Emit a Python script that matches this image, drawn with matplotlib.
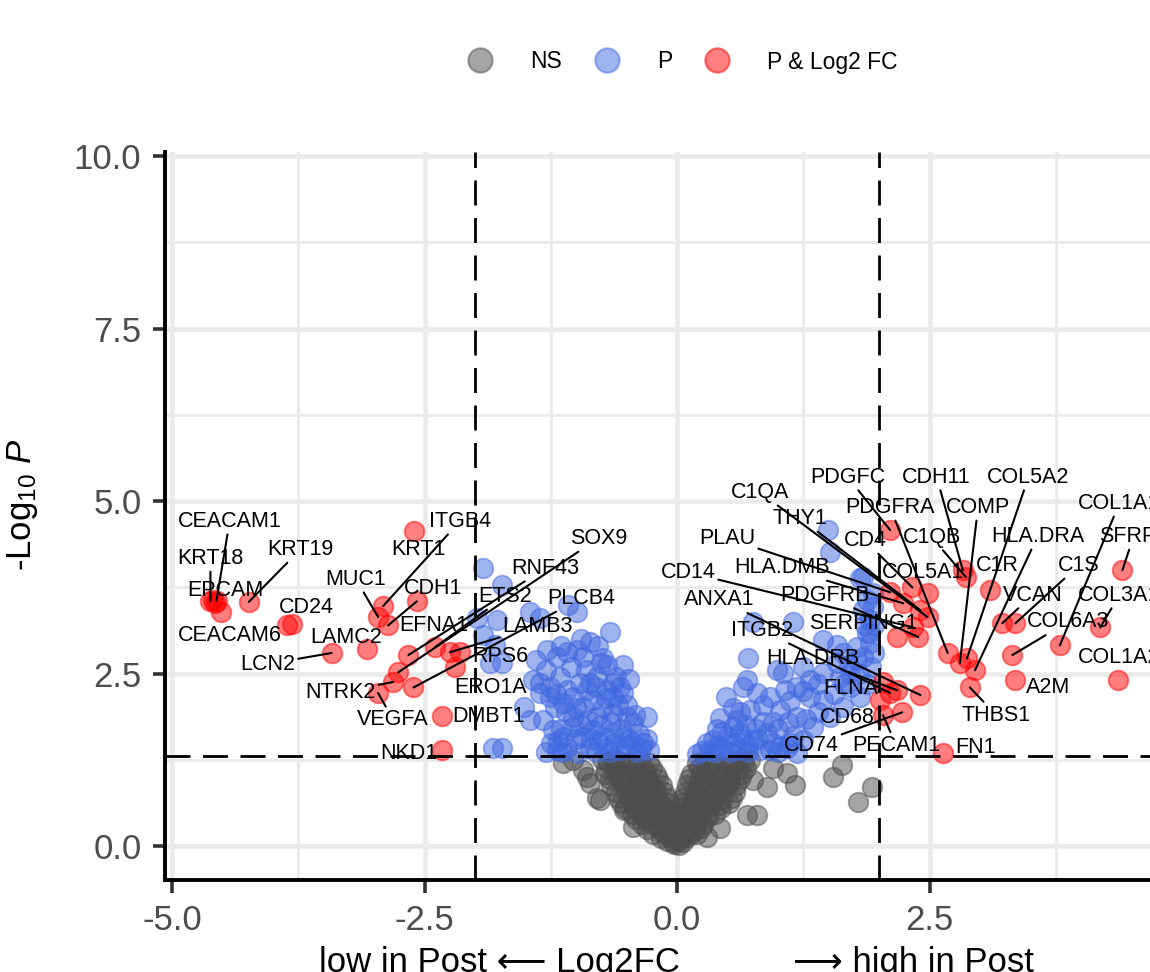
import matplotlib
matplotlib.use("Agg")
import matplotlib.pyplot as plt
from matplotlib.lines import Line2D
from matplotlib.ticker import MultipleLocator, FormatStrFormatter

plt.rcParams['font.family'] = ['Liberation Sans', 'DejaVu Sans']
plt.rcParams['axes.unicode_minus'] = False
plt.rcParams['mathtext.fontset'] = 'custom'
plt.rcParams['mathtext.rm'] = 'Liberation Sans'
plt.rcParams['mathtext.it'] = 'Liberation Sans:italic'

# ---- data ----
# not significant (grey)
ns_fc = [-1.13, -0.93, -0.89, -0.86, -0.79, -0.76, -0.53, -0.44, -1.03, 0.79, 0.69, 0.43, 0.30,
         1.17, 1.09, 0.95, 0.89, 0.75, 0.20, 1.63, 1.54, 1.93, 1.79,
         -0.68, -0.57, -0.49, -0.37, -0.28, -0.71, -0.61, -0.50, -0.41, -0.31, -0.21,
         -0.65, -0.53, -0.45, -0.33, -0.25, -0.15, -0.58, -0.47, -0.39, -0.27, -0.19, -0.10,
         -0.52, -0.43, -0.31, -0.23, -0.12, -0.06, -0.41, -0.33, -0.21, -0.13, -0.04,
         -0.30, -0.19, -0.11, -0.02, -0.16, -0.08, 0.00, -0.03, 0.02,
         0.27, 0.35, 0.47, 0.55, 0.66, 0.14, 0.25, 0.33, 0.45, 0.53, 0.64,
         0.10, 0.21, 0.29, 0.41, 0.49, 0.58, 0.06, 0.17, 0.25, 0.37, 0.45, 0.54,
         0.04, 0.13, 0.25, 0.33, 0.44, 0.03, 0.12, 0.23, 0.31, 0.02, 0.10, 0.17, 0.24, 0.04, 0.10,
         -0.70, -0.60, -0.52, -0.42, -0.33, -0.25, -0.66, -0.56, -0.47, -0.38, -0.28, -0.19,
         -0.60, -0.51, -0.41, -0.31, -0.21, -0.13, -0.55, -0.45, -0.35, -0.25, -0.16, -0.08,
         -0.45, -0.36, -0.26, -0.17, -0.08, -0.35, -0.26, -0.16, -0.07, -0.24, -0.14, -0.05,
         -0.10, -0.04, -0.74, -0.62,
         0.22, 0.31, 0.41, 0.50, 0.60, 0.68, 0.12, 0.22, 0.31, 0.42, 0.52, 0.62,
         0.08, 0.18, 0.28, 0.38, 0.47, 0.57, 0.05, 0.15, 0.24, 0.34, 0.43, 0.51,
         0.04, 0.12, 0.21, 0.30, 0.38, 0.03, 0.11, 0.18, 0.26, 0.02, 0.08, 0.14, 0.20,
         0.02, 0.06, 0.72, 0.64]
ns_logp = [1.20, 1.10, 1.00, 0.91, 0.70, 0.67, 0.52, 0.28, 1.25, 0.45, 0.45, 0.26, 0.13,
           0.88, 1.06, 1.14, 0.86, 0.96, 1.20, 1.17, 1.00, 0.86, 0.64,
           1.22, 1.24, 1.20, 1.23, 1.21, 1.05, 1.07, 1.03, 1.06, 1.04, 1.05,
           0.88, 0.90, 0.86, 0.89, 0.87, 0.88, 0.70, 0.72, 0.69, 0.71, 0.68, 0.70,
           0.55, 0.57, 0.54, 0.56, 0.55, 0.53, 0.40, 0.42, 0.39, 0.41, 0.40,
           0.25, 0.27, 0.24, 0.26, 0.12, 0.13, 0.11, 0.03, 0.02,
           1.22, 1.20, 1.23, 1.21, 1.22, 1.05, 1.07, 1.04, 1.06, 1.03, 1.05,
           0.88, 0.87, 0.90, 0.86, 0.89, 0.88, 0.70, 0.72, 0.69, 0.71, 0.68, 0.70,
           0.55, 0.56, 0.54, 0.57, 0.55, 0.40, 0.41, 0.39, 0.42, 0.25, 0.26, 0.24, 0.27, 0.12, 0.13,
           1.14, 1.13, 1.15, 1.14, 1.12, 1.14, 0.97, 0.96, 0.98, 0.97, 0.95, 0.97,
           0.79, 0.80, 0.78, 0.79, 0.81, 0.79, 0.62, 0.63, 0.61, 0.62, 0.60, 0.62,
           0.47, 0.48, 0.46, 0.47, 0.47, 0.32, 0.33, 0.31, 0.32, 0.18, 0.19, 0.17,
           0.07, 0.06, 1.26, 1.27,
           1.14, 1.13, 1.15, 1.14, 1.12, 1.14, 0.97, 0.96, 0.98, 0.97, 0.95, 0.97,
           0.79, 0.80, 0.78, 0.79, 0.81, 0.79, 0.62, 0.63, 0.61, 0.62, 0.60, 0.62,
           0.47, 0.48, 0.46, 0.47, 0.47, 0.32, 0.33, 0.31, 0.32, 0.18, 0.19, 0.17, 0.18,
           0.07, 0.06, 1.25, 1.27]

# P only (blue)
p_fc = [-1.92, -1.73, -1.98, -1.78, -1.92, -1.80, -1.85, -1.73, -1.46, -1.36, -1.08, -0.99,
        -0.66, -0.86, -1.29, -1.19, -1.09, -0.99, -0.93, -0.73, -0.54, -0.69, -1.43, -1.36,
        -1.26, -1.16, -0.79, -0.63, -0.56, -0.89, -1.52, -1.46, -1.33, -1.21, -1.13, -1.03,
        -0.93, -0.83, -0.73, -0.63, -0.50, -0.30, -0.44, -1.23, -1.13, -1.03, -0.93, -0.83,
        -0.73, -0.63, -0.53, -0.44, -0.34, -1.19, -1.09, -0.86, -0.69, -0.56, -1.82, -1.73,
        -1.36, -1.26, -1.09, -0.96, -0.86, -0.69, -0.54, -0.79, -0.63, -1.03, -0.89,
        -0.40, -0.28, -0.98, -1.30, -0.62, -0.78, -1.00, -1.18,
        -1.25, -1.15, -0.95, -0.85, -0.75, -0.65, -0.55, -0.48, -0.38, -0.30, -0.58, -0.70,
        -0.80, -1.00, -1.10, -1.20, -1.30, -1.05, -0.90, -0.75, -0.60, -0.48, -1.40, -1.15,
        -0.95, -0.78, -0.50, -0.42, -0.36, -0.50, -0.66, -0.80, -1.14,
        1.49, 1.51, 1.81, 1.88, 1.94, 0.75, 1.15, 1.45, 1.58, 1.64, 1.78, 1.88, 1.91, 1.84,
        0.70, 0.69, 0.99, 1.05, 1.25, 1.32, 1.45, 1.61, 1.71, 1.81, 0.48, 0.65, 0.79, 0.92,
        1.07, 1.19, 1.32, 1.45, 0.43, 0.59, 0.72, 1.02, 1.19, 1.35, 1.51, 1.64, 0.36, 0.50,
        0.62, 0.75, 0.89, 0.95, 1.09, 1.25, 0.33, 0.46, 0.59, 0.82, 1.19, 1.84, 1.94, 1.84,
        1.91, 1.91, 1.71, 1.78, 0.25, 0.70, 0.85, 1.00, 0.55, 1.15, 0.40,
        0.30, 0.40, 0.55, 0.65, 0.80, 0.92, 1.02, 1.12, 0.45, 0.55, 0.68, 0.78, 0.95, 1.10,
        1.28, 1.40, 0.62, 0.85, 1.12, 1.25, 1.55, 1.65, 1.40, 1.58, 1.70, 1.80, 1.88, 1.92,
        1.95, 1.95, 1.86, 0.38, 0.52, 0.70, 1.00, 0.20]
p_logp = [4.03, 3.78, 3.30, 3.28, 3.06, 2.91, 2.65, 2.65, 3.39, 3.30, 3.49, 3.39,
          3.10, 2.96, 2.84, 2.74, 2.81, 2.84, 2.74, 2.72, 2.62, 2.62, 2.41, 2.36,
          2.30, 2.45, 2.45, 2.36, 2.30, 2.26, 2.01, 1.83, 1.83, 2.01, 2.07, 2.16,
          2.01, 2.12, 2.01, 2.16, 1.87, 1.87, 1.78, 1.68, 1.58, 1.72, 1.58, 1.68,
          1.58, 1.64, 1.58, 1.49, 1.49, 1.39, 1.43, 1.43, 1.43, 1.39, 1.43, 1.43,
          2.22, 2.16, 2.26, 2.36, 2.36, 2.26, 2.22, 1.87, 1.93, 1.87, 1.83,
          1.36, 1.40, 1.35, 1.36, 1.50, 1.52, 1.55, 1.52,
          1.50, 1.70, 1.75, 1.55, 1.75, 1.80, 1.70, 1.55, 1.62, 1.55, 2.05, 2.15,
          2.30, 2.00, 1.95, 2.20, 2.55, 2.60, 2.55, 2.65, 2.45, 2.42, 2.70, 2.90,
          3.00, 2.90, 2.05, 1.90, 1.42, 1.45, 1.36, 1.37, 1.36,
          4.58, 4.26, 3.88, 3.57, 3.46, 3.25, 3.25, 2.99, 2.91, 2.80, 2.88, 3.09, 2.94, 2.74,
          2.72, 2.41, 2.55, 2.51, 2.59, 2.41, 2.51, 2.45, 2.30, 2.16, 2.16, 2.30, 2.22, 2.16,
          2.26, 2.30, 2.16, 2.12, 1.86, 1.83, 1.97, 1.97, 1.87, 1.72, 1.87, 2.01, 1.54, 1.58,
          1.64, 1.54, 1.64, 1.49, 1.43, 1.54, 1.39, 1.43, 1.39, 1.39, 1.35, 3.90, 3.67, 3.42,
          3.28, 3.09, 2.51, 2.70, 1.38, 1.45, 1.80, 1.70, 2.00, 1.60, 1.70,
          1.50, 1.45, 1.50, 1.55, 1.55, 1.40, 1.45, 1.50, 1.65, 1.72, 1.75, 1.70, 1.80, 1.80,
          1.85, 1.95, 1.95, 2.05, 2.10, 2.25, 2.20, 2.35, 2.35, 2.65, 2.62, 2.50, 2.35, 2.60,
          2.80, 3.20, 3.20, 1.36, 1.36, 1.36, 1.36, 1.34]

# P & Log2 FC (red)
red_genes = ['KRT1', 'EPCAM', 'KRT18', 'CEACAM1', 'CEACAM6', '', 'KRT19', 'CD24', '',
             'LAMC2', 'LCN2', 'MUC1', 'ITGB4', 'CDH1', 'EFNA1', 'SOX9', 'RNF43', 'ETS2',
             'LAMB3', 'RPS6', 'ERO1A', 'PLCB4', 'NTRK2', 'VEGFA', 'DMBT1', 'NKD1',
             'PDGFC', 'CDH11', 'C1QB', 'C1R', 'SFRP2', 'PLAU', 'HLA.DMB', 'CD4', 'COL5A1',
             'THY1', 'C1QA', 'SERPING1', 'PDGFRB', 'CD14', 'VCAN', 'C1S', 'COL3A1', 'COL1A1',
             'COL6A3', 'PDGFRA', 'COMP', 'COL5A2', 'HLA.DRA', 'COL1A2', 'A2M', 'THBS1',
             'FLNA', 'HLA.DRB', 'ITGB2', 'CD68', 'ANXA1', 'CD74', 'PECAM1', 'FN1']
red_fc = [-2.60, -4.59, -4.62, -4.56, -4.52, -4.57, -4.24, -3.86, -3.81,
          -3.07, -3.42, -2.96, -2.91, -2.86, -2.57, -2.76, -2.66, -2.40,
          -2.25, -2.15, -2.20, -2.61, -2.81, -2.96, -2.33, -2.33,
          2.11, 2.83, 2.86, 3.10, 4.41, 2.11, 2.24, 2.33, 2.48,
          2.41, 2.48, 2.18, 2.39, 2.34, 3.22, 3.35, 4.19, 3.79,
          3.32, 2.68, 2.80, 2.87, 2.95, 4.37, 3.35, 2.90,
          2.04, 2.18, 2.11, 2.01, 2.41, 2.23, 2.04, 2.63]
red_logp = [4.57, 3.57, 3.55, 3.56, 3.39, 3.52, 3.54, 3.20, 3.22,
            2.86, 2.80, 3.32, 3.48, 3.20, 3.55, 2.52, 2.77, 2.88,
            2.81, 2.81, 2.59, 2.30, 2.38, 2.22, 1.88, 1.39,
            4.58, 4.00, 3.90, 3.71, 4.00, 3.68, 3.52, 3.75, 3.67,
            3.42, 3.32, 3.03, 3.03, 3.17, 3.23, 3.23, 3.17, 2.91,
            2.77, 2.80, 2.65, 2.72, 2.55, 2.41, 2.41, 2.30,
            2.38, 2.26, 2.22, 2.12, 2.19, 1.94, 1.90, 1.35]

fc_cut = 2.0
p_cut = 1.301  # -log10(0.05)

# label placement (label centre in data units, connector on/off)
label_pos = {
    'CEACAM1': (-4.43, 4.71, True), 'KRT18': (-4.62, 4.17, True), 'KRT19': (-3.73, 4.30, True),
    'EPCAM': (-4.47, 3.71, False), 'CEACAM6': (-4.43, 3.06, False), 'CD24': (-3.67, 3.46, False),
    'LAMC2': (-3.28, 3.03, False), 'LCN2': (-4.05, 2.64, True), 'MUC1': (-3.18, 3.87, True),
    'KRT1': (-2.56, 4.30, False), 'ITGB4': (-2.15, 4.71, True), 'CDH1': (-2.42, 3.74, True),
    'EFNA1': (-2.41, 3.20, False), 'NTRK2': (-3.33, 2.23, True), 'VEGFA': (-2.81, 1.83, True),
    'DMBT1': (-1.87, 1.88, False), 'NKD1': (-2.66, 1.35, False), 'ERO1A': (-1.85, 2.30, False),
    'RPS6': (-1.75, 2.75, False), 'LAMB3': (-1.38, 3.19, True), 'PLCB4': (-0.95, 3.59, True),
    'ETS2': (-1.70, 3.62, True), 'SOX9': (-0.78, 4.46, True), 'RNF43': (-1.30, 4.03, True),
    'C1QA': (0.82, 5.13, True), 'THY1': (1.22, 4.75, True), 'PDGFC': (1.69, 5.35, True),
    'CDH11': (2.57, 5.35, True), 'COL5A2': (3.48, 5.35, True), 'PDGFRA': (2.11, 4.91, True),
    'COMP': (2.98, 4.91, True), 'C1QB': (2.52, 4.48, True), 'CD4': (1.86, 4.43, True),
    'HLA.DRA': (3.57, 4.49, True), 'SFRP2': (4.52, 4.49, True), 'COL1A1': (4.38, 4.97, True),
    'C1R': (3.17, 4.07, False), 'C1S': (3.98, 4.07, True), 'COL5A1': (2.44, 3.96, False),
    'VCAN': (3.52, 3.64, True), 'COL3A1': (4.38, 3.64, True), 'COL6A3': (3.87, 3.25, True),
    'COL1A2': (4.38, 2.74, False), 'A2M': (3.67, 2.30, False), 'THBS1': (3.16, 1.90, True),
    'FN1': (2.96, 1.43, False), 'PLAU': (0.50, 4.46, True), 'HLA.DMB': (1.04, 4.04, True),
    'CD14': (0.11, 3.97, True), 'PDGFRB': (1.46, 3.64, True), 'ANXA1': (0.42, 3.57, True),
    'SERPING1': (1.84, 3.23, False), 'ITGB2': (0.84, 3.13, True), 'HLA.DRB': (1.34, 2.72, True),
    'FLNA': (1.72, 2.29, False), 'CD68': (1.69, 1.87, False), 'CD74': (1.33, 1.46, True),
    'PECAM1': (2.17, 1.46, True),
}

# ---- figure ----
fig = plt.figure(figsize=(11.5, 9.72), dpi=100)
ax = fig.add_axes([165 / 1150, 1 - 880 / 972, 1 - 165 / 1150, (880 - 152) / 972])
ax.set_xlim(-5.07, 4.683)
ax.set_ylim(-0.49, 10.06)

ax.xaxis.set_major_locator(MultipleLocator(2.5))
ax.xaxis.set_minor_locator(MultipleLocator(1.25))
ax.yaxis.set_major_locator(MultipleLocator(2.5))
ax.yaxis.set_minor_locator(MultipleLocator(1.25))
ax.xaxis.set_major_formatter(FormatStrFormatter('%.1f'))
ax.yaxis.set_major_formatter(FormatStrFormatter('%.1f'))
ax.grid(True, which='major', color='#ebebeb', linewidth=3.3, zorder=0)
ax.grid(True, which='minor', color='#ebebeb', linewidth=2.2, zorder=0)
ax.set_axisbelow(True)
ax.tick_params(which='major', length=9, width=2.6, color='#333333',
               labelsize=25, labelcolor='#4d4d4d', pad=8)
ax.tick_params(which='minor', length=0)
for side in ['top', 'right']:
    ax.spines[side].set_visible(False)
for side in ['left', 'bottom']:
    ax.spines[side].set_linewidth(2.8)
    ax.spines[side].set_color('black')

pt_size = 200
ax.scatter(ns_fc, ns_logp, s=pt_size, color='#4d4d4d', alpha=0.5, linewidths=1.3, zorder=2)
ax.scatter(p_fc, p_logp, s=pt_size, color='royalblue', alpha=0.5, linewidths=1.3, zorder=3)
ax.scatter(red_fc, red_logp, s=pt_size, color='red', alpha=0.5, linewidths=1.3, zorder=4)

for v in [-fc_cut, fc_cut]:
    ax.axvline(v, color='black', lw=2, dashes=(9, 4.5), zorder=5)
ax.axhline(p_cut, color='black', lw=2, dashes=(9, 4.5), zorder=5)

for g, x, y in zip(red_genes, red_fc, red_logp):
    if g not in label_pos:
        continue
    lx, ly, line = label_pos[g]
    if line:
        ax.annotate(g, xy=(x, y), xytext=(lx, ly), ha='center', va='center',
                    fontsize=15.5, color='black', zorder=7, annotation_clip=False,
                    arrowprops=dict(arrowstyle='-', color='black', lw=1.5,
                                    shrinkA=0, shrinkB=0))
    else:
        ax.text(lx, ly, g, ha='center', va='center', fontsize=15.5, color='black', zorder=7)

# legend
handles = [Line2D([], [], marker='o', ls='', markersize=17.5, color=c, alpha=0.5,
                  markeredgewidth=1.5) for c in ['#4d4d4d', 'royalblue', 'red']]
fig.legend(handles, ['NS', 'P', 'P & Log2 FC'], loc='center', ncol=3, frameon=False,
           bbox_to_anchor=(682 / 1150, 1 - 62 / 972), fontsize=16.5,
           handlelength=1.2, handletextpad=1.58, columnspacing=1.38)

# axis titles
fig.text(22 / 1150, 1 - 505 / 972, r'-Log$_{10}$ $\mathit{P}$', rotation=90,
         ha='center', va='center', fontsize=25, color='black')
fig.text(680 / 1150, 1 - 962 / 972, 'low in Post \u27f5 Log2FC', ha='right', va='center',
         fontsize=25, color='black')
fig.text(793 / 1150, 1 - 962 / 972, '\u27f6 high in Post', ha='left', va='center',
         fontsize=25, color='black')

fig.savefig('out.png', dpi=100)
